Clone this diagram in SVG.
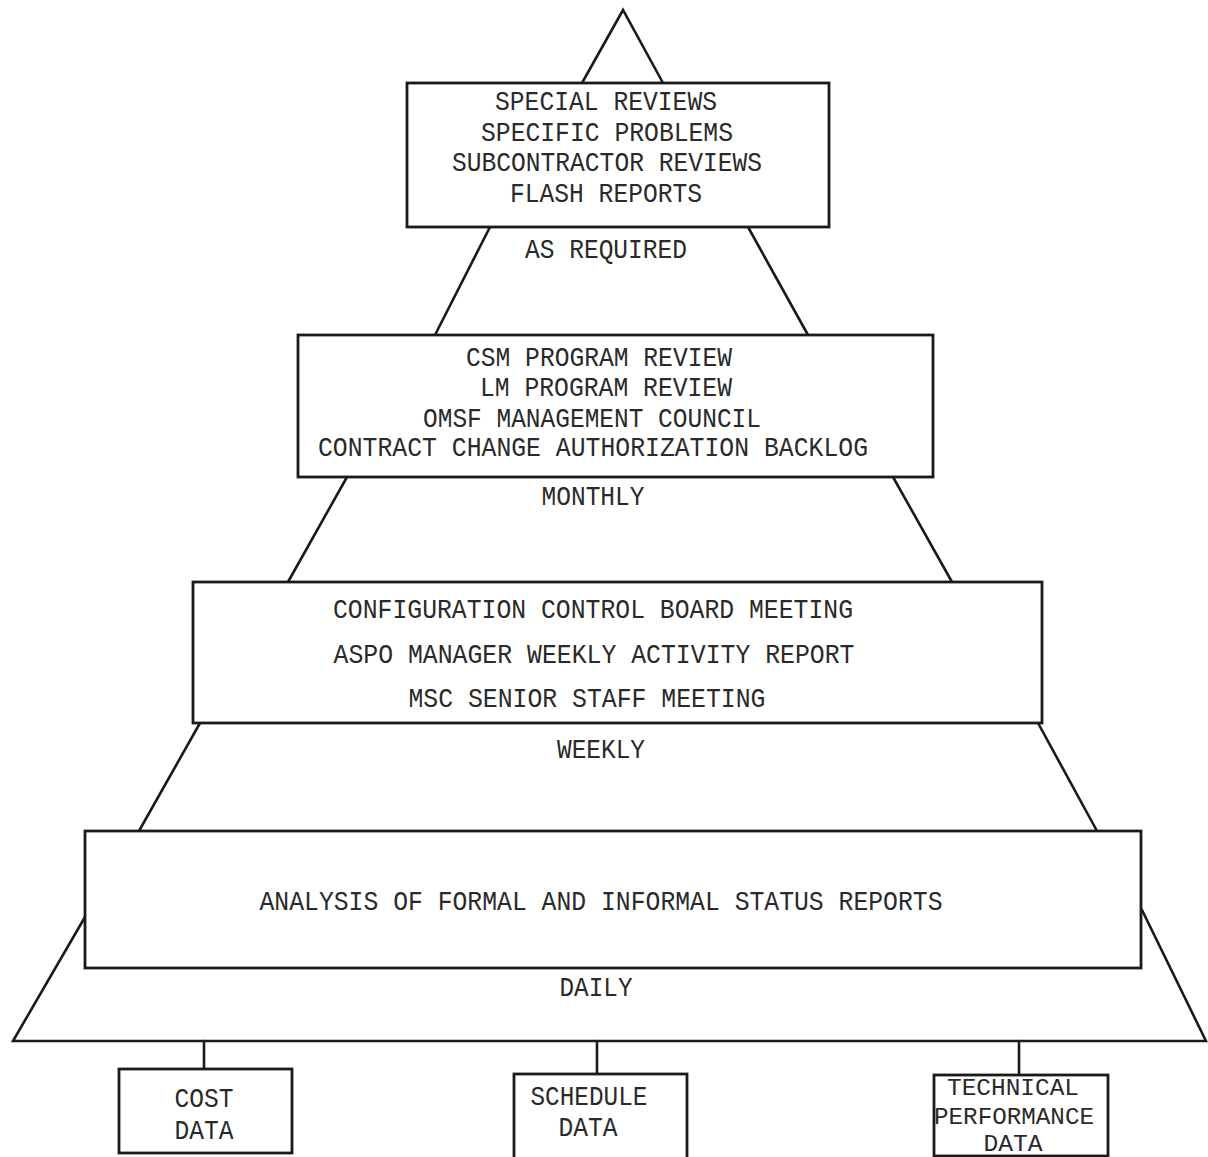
<svg xmlns="http://www.w3.org/2000/svg" width="1208" height="1157" viewBox="0 0 1208 1157">
<style>
.ln{stroke:#1a1a1a;stroke-width:2.6;fill:none;stroke-linecap:round;stroke-linejoin:miter}
.box{stroke:#1a1a1a;stroke-width:2.8;fill:#ffffff}
.t{font-family:"Liberation Mono","DejaVu Sans Mono",monospace;font-size:27px;fill:#2a2a2a;text-anchor:middle}
.s{font-size:23px}
</style>
<rect width="1208" height="1157" fill="#ffffff"/>
<g id="pyramid">
<polyline class="ln" points="582,83 623,10 663,83"/>
<line class="ln" x1="490" y1="227" x2="435" y2="335"/>
<line class="ln" x1="748" y1="227" x2="808" y2="335"/>
<line class="ln" x1="347" y1="477" x2="288" y2="582"/>
<line class="ln" x1="893" y1="477" x2="952" y2="582"/>
<line class="ln" x1="200" y1="723" x2="139" y2="831"/>
<line class="ln" x1="1038" y1="723" x2="1097" y2="831"/>
<polyline class="ln" points="85,917 13,1041 1206,1041 1142,910"/>
</g>
<g id="connectors">
<line class="ln" x1="204" y1="1041" x2="204" y2="1069"/>
<line class="ln" x1="597" y1="1041" x2="597" y2="1074"/>
<line class="ln" x1="1019" y1="1041" x2="1019" y2="1075"/>
</g>
<g id="node-as-required">
<rect class="box" x="407" y="83" width="422" height="144"/>
<text class="t" x="606" y="110" textLength="222" lengthAdjust="spacingAndGlyphs">SPECIAL REVIEWS</text>
<text class="t" x="607" y="141" textLength="252" lengthAdjust="spacingAndGlyphs">SPECIFIC PROBLEMS</text>
<text class="t" x="607" y="171" textLength="310" lengthAdjust="spacingAndGlyphs">SUBCONTRACTOR REVIEWS</text>
<text class="t" x="606" y="202" textLength="192" lengthAdjust="spacingAndGlyphs">FLASH REPORTS</text>
</g>
<text class="t" x="606" y="258" textLength="162" lengthAdjust="spacingAndGlyphs">AS REQUIRED</text>
<g id="node-monthly">
<rect class="box" x="298" y="335" width="635" height="142"/>
<text class="t" x="599" y="366" textLength="266" lengthAdjust="spacingAndGlyphs">CSM PROGRAM REVIEW</text>
<text class="t" x="606" y="396" textLength="252" lengthAdjust="spacingAndGlyphs">LM PROGRAM REVIEW</text>
<text class="t" x="592" y="427" textLength="338" lengthAdjust="spacingAndGlyphs">OMSF MANAGEMENT COUNCIL</text>
<text class="t" x="593" y="456" textLength="550" lengthAdjust="spacingAndGlyphs">CONTRACT CHANGE AUTHORIZATION BACKLOG</text>
</g>
<text class="t" x="593" y="505" textLength="103" lengthAdjust="spacingAndGlyphs">MONTHLY</text>
<g id="node-weekly">
<rect class="box" x="193" y="582" width="849" height="141"/>
<text class="t" x="593" y="618" textLength="520" lengthAdjust="spacingAndGlyphs">CONFIGURATION CONTROL BOARD MEETING</text>
<text class="t" x="594" y="663" textLength="521" lengthAdjust="spacingAndGlyphs">ASPO MANAGER WEEKLY ACTIVITY REPORT</text>
<text class="t" x="587" y="707" textLength="357" lengthAdjust="spacingAndGlyphs">MSC SENIOR STAFF MEETING</text>
</g>
<text class="t" x="601" y="758" textLength="88" lengthAdjust="spacingAndGlyphs">WEEKLY</text>
<g id="node-daily">
<rect class="box" x="85" y="831" width="1056" height="137"/>
<text class="t" x="601" y="910" textLength="683" lengthAdjust="spacingAndGlyphs">ANALYSIS OF FORMAL AND INFORMAL STATUS REPORTS</text>
</g>
<text class="t" x="596" y="996" textLength="73" lengthAdjust="spacingAndGlyphs">DAILY</text>
<g id="node-cost">
<rect class="box" x="119" y="1069" width="173" height="84"/>
<text class="t" x="204" y="1107" textLength="59" lengthAdjust="spacingAndGlyphs">COST</text>
<text class="t" x="204" y="1139" textLength="59" lengthAdjust="spacingAndGlyphs">DATA</text>
</g>
<g id="node-schedule">
<rect class="box" x="514" y="1074" width="173" height="90"/>
<text class="t" x="589" y="1105" textLength="117" lengthAdjust="spacingAndGlyphs">SCHEDULE</text>
<text class="t" x="588" y="1136" textLength="59" lengthAdjust="spacingAndGlyphs">DATA</text>
</g>
<g id="node-technical">
<rect class="box" x="934" y="1075" width="174" height="81"/>
<text class="t s" x="1013" y="1095" textLength="132" lengthAdjust="spacingAndGlyphs">TECHNICAL</text>
<text class="t s" x="1014" y="1124" textLength="160" lengthAdjust="spacingAndGlyphs">PERFORMANCE</text>
<text class="t s" x="1013" y="1151" textLength="59" lengthAdjust="spacingAndGlyphs">DATA</text>
</g>
</svg>
